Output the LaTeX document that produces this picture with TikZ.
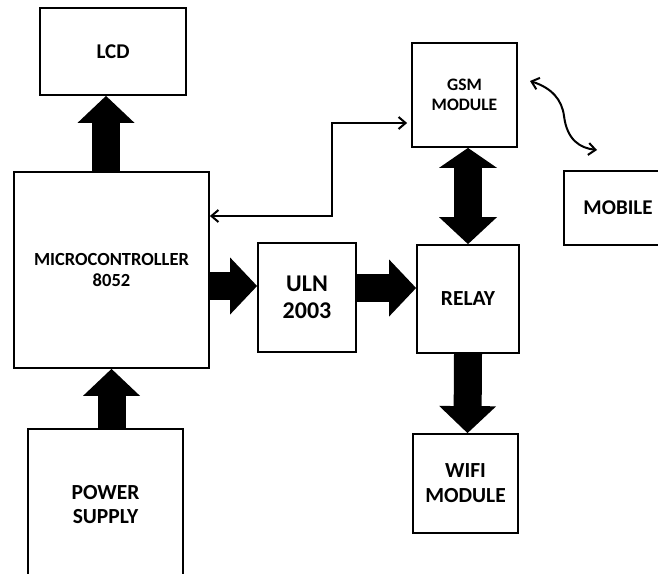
\documentclass[tikz,border=0pt]{standalone}
\usepackage{fontspec}
\setmainfont{Carlito}
\usetikzlibrary{arrows.meta,calc}
\begin{document}
\begin{tikzpicture}[x=1pt,y=-1pt,
  box/.style={draw,line width=1.8pt,fill=white,align=center,inner sep=0pt},
  fat/.style={line width=28pt,-{Triangle[width=57pt,length=27pt,line width=0pt]}},
  link/.style={line width=2pt,{Straight Barb[length=7pt,width=12pt]}-{Straight Barb[length=7pt,width=12pt]}}]
\useasboundingbox (0,0) rectangle (658,573);
\clip (0,0) rectangle (658,573);
% boxes
\node[box,minimum width=146pt,minimum height=87pt,font=\bfseries\fontsize{21}{24}\selectfont] (lcd) at (113,51.5) {LCD};
\node[box,minimum width=195pt,minimum height=196pt,font=\bfseries\fontsize{18.5}{21}\selectfont] (mc) at (111.5,270) {MICROCONTROLLER\\8052};
\node[box,minimum width=155pt,minimum height=152pt,font=\bfseries\fontsize{21.5}{24}\selectfont] (ps) at (105.5,505) {POWER\\SUPPLY};
\node[box,minimum width=98pt,minimum height=109pt,font=\bfseries\fontsize{24}{27}\selectfont] (uln) at (307,297.5) {ULN\\2003};
\node[box,minimum width=102pt,minimum height=108pt,font=\bfseries\fontsize{21.5}{24}\selectfont] (relay) at (468,299) {RELAY};
\node[box,minimum width=105pt,minimum height=104pt,font=\bfseries\fontsize{17.5}{20}\selectfont] (gsm) at (464.5,95) {GSM\\MODULE};
\node[box,minimum width=105pt,minimum height=99pt,font=\bfseries\fontsize{21.5}{25}\selectfont] (wifi) at (465.5,483.5) {WIFI\\MODULE};
\node[box,minimum width=108pt,minimum height=74pt,font=\bfseries\fontsize{21}{24}\selectfont] (mobile) at (618,208) {MOBILE};
% block arrows
\draw[fat] ([xshift=-5.5pt]mc.north) -- ([xshift=-7pt]lcd.south);
\draw[fat] ([xshift=6pt]ps.north) -- (mc.south);
\draw[fat] ([yshift=-16pt]mc.east) -- ([yshift=11.5pt]uln.west);
\draw[fat] ([yshift=9.5pt]uln.east) -- ([yshift=11pt]relay.west);
\draw[fat] (relay.south) -- ([xshift=2pt]wifi.north);
\draw[line width=28pt,{Triangle[width=58pt,length=20pt,line width=0pt]}-{Triangle[width=58pt,length=27pt,line width=0pt]}] ([xshift=3.5pt]gsm.south) -- (relay.north);
% thin connector
\coordinate (bendA) at (332,216);
\coordinate (bendB) at (332,123);
\draw[link] (mc.east |- bendA) -- (bendA) -- (bendB) -- ([xshift=-4pt]gsm.west |- bendB);
% wireless link
\coordinate (wa) at (530,81);
\coordinate (wb) at (597,150);
\draw[link] (wa) .. controls (552,88) and (562,100) .. (564,116) .. controls (567,140) and (580,148) .. (wb);
\end{tikzpicture}
\end{document}
